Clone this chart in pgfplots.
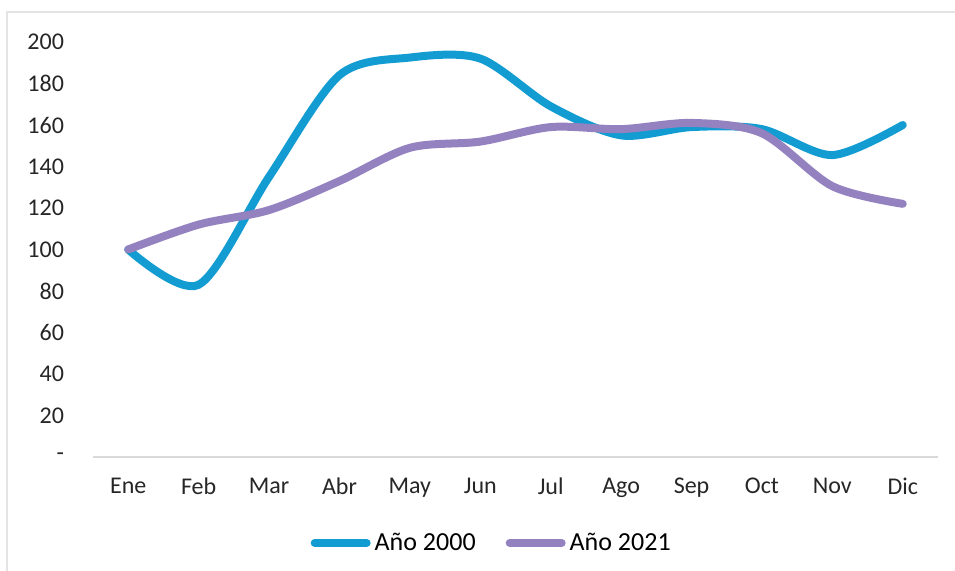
\documentclass[border=0pt]{standalone}
\usepackage{pgfplots}
\pgfplotsset{compat=1.18}
\usepackage{fontspec}
\setmainfont{Carlito}
\definecolor{serA}{RGB}{19,156,210}
\definecolor{serB}{RGB}{148,130,192}
\definecolor{axgray}{RGB}{217,217,217}
\begin{document}
\begin{tikzpicture}[x=1pt,y=1pt]
\path[use as bounding box] (0,0) rectangle (477.5,285.5);
\draw[axgray!70, line width=1pt] (3.25,0) -- (3.25,279.5) -- (477.5,279.5);
\begin{axis}[
  at={(46.5pt,57pt)}, anchor=south west,
  scale only axis, width=422.5pt, height=207.5pt,
  xmin=-0.5, xmax=11.5, ymin=0, ymax=200,
  xtick={0,...,11},
  xticklabels={Ene,Feb,Mar,Abr,May,Jun,Jul,Ago,Sep,Oct,Nov,Dic},
  ytick={0,20,...,200},
  yticklabels={-,20,40,60,80,100,120,140,160,180,200},
  /pgf/number format/assume math mode=true,
  tick label style={font=\fontsize{12}{14}\selectfont, text=black!85},
  xticklabel style={yshift=-7pt},
  yticklabel style={xshift=-11pt},
  major tick length=0pt,
  axis x line*=bottom, axis y line*=left,
  x axis line style={draw=axgray, line width=1pt, -},
  y axis line style={draw=none},
  legend style={at={(0.473,-0.207)}, anchor=center, draw=none, fill=none,
    legend columns=2, font=\fontsize{13}{15}\selectfont,
    /tikz/every even column/.append style={column sep=13pt}},
  legend image code/.code={\draw[#1, line cap=round] (0pt,0pt) -- (26pt,0pt);},
  clip=false,
]
\addplot[serA, line width=4pt, smooth, tension=0.5, line cap=round] coordinates {
(0,100) (1,83) (2,135) (3,184) (4,192.5) (5,192) (6,169) (7,155) (8,159) (9,158) (10,145.5) (11,160)};
\addlegendentry{Año 2000}
\addplot[serB, line width=4pt, smooth, tension=0.5, line cap=round] coordinates {
(0,100) (1,112) (2,119) (3,133) (4,149) (5,152) (6,159) (7,158) (8,161) (9,156) (10,130.5) (11,122)};
\addlegendentry{Año 2021}
\end{axis}
\end{tikzpicture}
\end{document}
